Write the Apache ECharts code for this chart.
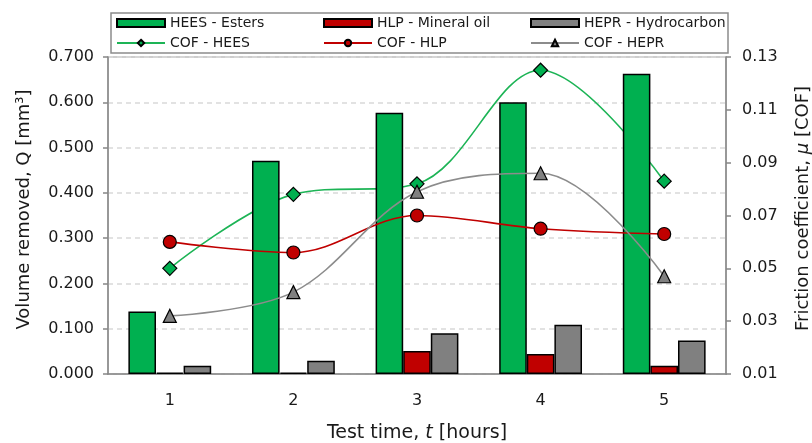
<!DOCTYPE html>
<html>
<head>
<meta charset="utf-8">
<script src="https://cdn.jsdelivr.net/npm/echarts@6/dist/echarts.min.js"></script>
<style>
  html, body { margin: 0; padding: 0; background: #fff; }
  #chart { width: 812px; height: 443px; }
</style>
</head>
<body>
<div id="chart"></div>
<script>
// Test time categories (hours)
const hours = ['1', '2', '3', '4', '5'];

// Volume removed, Q [mm3]
const volHEES = [0.138, 0.471, 0.577, 0.600, 0.663];
const volHLP  = [0.003, 0.003, 0.051, 0.044, 0.018];
const volHEPR = [0.018, 0.029, 0.090, 0.109, 0.074];

// Friction coefficient (COF)
const cofHEES = [0.050, 0.078, 0.082, 0.125, 0.083];
const cofHLP  = [0.060, 0.056, 0.070, 0.065, 0.063];
const cofHEPR = [0.032, 0.041, 0.079, 0.086, 0.047];

// Right axis tick values
const cofTicks = [0.01, 0.03, 0.05, 0.07, 0.09, 0.11, 0.13];

const FONT = 'DejaVu Sans';
const TXT = '#1a1a1a';
const AXIS = '#868686';
const GREEN = '#00b050';
const RED = '#c00000';
const GRAY = '#808080';

const chart = echarts.init(document.getElementById('chart'), null, { renderer: 'canvas' });

function legendAt(name, left, top, icon) {
  const lg = {
    data: [name],
    left: left, top: top,
    padding: 0,
    itemWidth: 48, itemHeight: 8,
    textStyle: { fontFamily: FONT, fontSize: 14, color: TXT },
    selectedMode: false
  };
  if (icon) lg.icon = icon;
  return lg;
}

function barSeries(name, data, color) {
  return {
    name: name, type: 'bar', yAxisIndex: 0, data: data, z: 2,
    barGap: '0%', barCategoryGap: '33%',
    itemStyle: { color: color, borderColor: '#000', borderWidth: 1.5 }
  };
}

function lineSeries(name, data, color, lineColor, symbol, size, z) {
  return {
    name: name, type: 'line', yAxisIndex: 1, data: data, z: z,
    smooth: 0.35,
    symbol: symbol, symbolSize: size,
    lineStyle: { color: lineColor, width: 1.6 },
    itemStyle: { color: color, borderColor: '#000', borderWidth: 1.2 }
  };
}

const option = {
  animation: false,
  backgroundColor: '#fff',
  textStyle: { fontFamily: FONT },
  graphic: [{
    type: 'rect', z: 0,
    shape: { x: 111, y: 13, width: 617, height: 40 },
    style: { fill: 'none', stroke: '#8c8c8c', lineWidth: 1.5 }
  }],
  legend: [
    legendAt('HEES - Esters', 116, 16, 'rect'),
    legendAt('HLP - Mineral oil', 323, 16, 'rect'),
    legendAt('HEPR - Hydrocarbon', 530, 16, 'rect'),
    legendAt('COF - HEES', 116, 36),
    legendAt('COF - HLP', 323, 36),
    legendAt('COF - HEPR', 530, 36)
  ],
  grid: {
    left: 108, right: 86, top: 57, bottom: 69,
    containLabel: false, outerBoundsMode: 'none',
    show: true, borderColor: '#bdbdbd', borderWidth: 1.5
  },
  xAxis: {
    type: 'category',
    data: hours,
    boundaryGap: true,
    axisLine: { lineStyle: { color: AXIS, width: 1.5 } },
    axisTick: { length: 6, lineStyle: { color: AXIS, width: 1.5 } },
    axisLabel: { fontFamily: FONT, fontSize: 16, color: TXT, margin: 19 },
    name: '{a|Test time, }{i|t}{a| [hours]}',
    nameLocation: 'middle',
    nameGap: 50,
    nameTextStyle: {
      rich: {
        a: { fontFamily: FONT, fontSize: 19, color: TXT },
        i: { fontFamily: FONT, fontSize: 19, color: TXT, fontStyle: 'italic' }
      }
    }
  },
  yAxis: [{
    type: 'value',
    min: 0, max: 0.7, interval: 0.1,
    position: 'left',
    axisLine: { show: true, lineStyle: { color: AXIS, width: 1.5 } },
    axisTick: { show: true, length: 5, lineStyle: { color: AXIS, width: 1.5 } },
    axisLabel: { fontFamily: FONT, fontSize: 16, color: TXT, margin: 14,
                 formatter: v => v.toFixed(3) },
    splitLine: { show: true, lineStyle: { color: '#d9d9d9', width: 1.5, type: [5, 4] } },
    name: 'Volume removed, Q [mm³]',
    nameLocation: 'middle',
    nameRotate: 90,
    nameGap: 75,
    nameTextStyle: { fontFamily: FONT, fontSize: 18, color: TXT, padding: [0, 0, 0, 12] }
  }, {
    type: 'value',
    min: 0.01, max: 0.13,
    position: 'right',
    axisLine: { show: true, lineStyle: { color: AXIS, width: 1.5 } },
    axisTick: { show: true, length: 5, customValues: cofTicks,
                lineStyle: { color: AXIS, width: 1.5 } },
    axisLabel: { fontFamily: FONT, fontSize: 16, color: TXT, margin: 16,
                 customValues: cofTicks, formatter: v => v.toFixed(2) },
    splitLine: { show: false },
    name: '{a|Friction coefficient, }{i|μ}{a| [COF]}',
    nameLocation: 'middle',
    nameRotate: 90,
    nameGap: 68,
    nameTextStyle: {
      padding: [0, 0, 0, 14],
      rich: {
        a: { fontFamily: FONT, fontSize: 18, color: TXT },
        i: { fontFamily: FONT, fontSize: 18, color: TXT, fontStyle: 'italic' }
      }
    }
  }],
  series: [
    lineSeries('COF - HEES', cofHEES, GREEN, '#1db456', 'diamond', 14, 1),
    barSeries('HEES - Esters', volHEES, GREEN),
    barSeries('HLP - Mineral oil', volHLP, RED),
    barSeries('HEPR - Hydrocarbon', volHEPR, GRAY),
    lineSeries('COF - HLP', cofHLP, RED, RED, 'circle', 13, 3),
    lineSeries('COF - HEPR', cofHEPR, GRAY, '#8c8c8c', 'triangle', 13, 3)
  ]
};

chart.setOption(option);
</script>
</body>
</html>
